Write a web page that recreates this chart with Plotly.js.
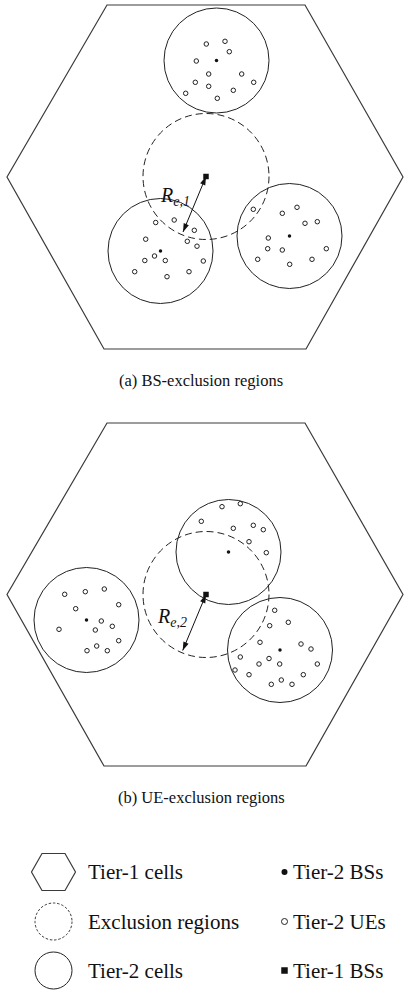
<!DOCTYPE html>
<html>
<head>
<meta charset="utf-8">
<script src="https://cdn.plot.ly/plotly-3.0.1.min.js"></script>
<style>html,body{margin:0;padding:0;background:#fff;}#chart{width:404px;height:992px;}</style>
</head>
<body>
<div id="chart"></div>
<script>
// ---------- Data (pixel-space diagram coordinates) ----------
const hexX  = [107, 305, 403, 306, 104, 7, 107];
const hexAY = [5, 5, 177, 349, 349, 177, 5];
const hexBY = [423, 423, 594.5, 766, 766, 594.5, 423];

const cellR = 52.5;
const exclR = 63;

// (a) BS-exclusion regions
const cellACx = [216.5, 160.5, 289.5];
const cellACy = [60.5, 251, 236];
const tier1ACx = [206];
const tier1ACy = [176.5];
const arrowAEnd = [183, 232];
const ueAX = [206.3,225,229.3,196.3,208.7,241.7,253.7,195.3,208.7,233.3,185.7,217.3,
  155.7,174.2,194.3,145.7,187.3,197,154.5,144.8,165.3,203.3,134.7,189,167,
  253.3,282.3,297,305,317.3,268.3,267.7,282.3,326.3,257.7,312,289.7];
const ueAY = [44,41.3,51.7,61,74,74,82.3,82.3,86.3,90.3,93.3,98.3,
  222.5,220,230.3,239.2,241.3,246.2,256,260.5,260.5,261,271.7,271.7,276.7,
  209.3,213.3,207.3,223.3,221.7,238,248.7,250,248.7,259.3,259.3,264.3];

// (b) UE-exclusion regions
const cellBCx = [86.5, 228.5, 280];
const cellBCy = [620, 552, 650];
const tier1BCx = [206];
const tier1BCy = [594.5];
const arrowBEnd = [182.7, 650.5];
const ueBX = [64.7,85.3,104.3,118.7,75.7,101.3,59,95.3,112.3,118.7,96.7,87,107.3,
  222,240.3,201.3,233.3,253.3,263.3,249,266.3,
  274.7,288.3,269.7,260,301,311,240.3,269,259,279.7,317.3,235,249,303.3,271.3,281.3,292];
const ueBY = [594.3,591.7,589,604.7,608.7,621,629.3,630,626.3,640.7,646,650.7,650.7,
  506.7,503.7,521.3,528.3,525.3,529.7,541.7,552.7,
  610.3,622.3,625.7,642.3,644,649,657,658.5,664,664,664,670,674.7,674.7,684.3,680,684.3];

// captions and legend
const captions = ["(a) BS-exclusion regions", "(b) UE-exclusion regions"];
const captionY = [380, 797];
const legendLabelsL = ["Tier-1 cells", "Exclusion regions", "Tier-2 cells"];
const legendLabelsR = ["Tier-2 BSs", "Tier-2 UEs", "Tier-1 BSs"];
const legendRowY = [872, 921.5, 970.5];
const legHexX = [42, 65, 75.5, 65, 42, 31.5, 42];
const legHexDY = [-18.5, -18.5, 0, 18.5, 18.5, 0, -18.5];
const legIconX = 53.5, legIconR = 18.5;
const legTextLX = 86, legMarkX = 284.5, legTextRX = 291;

// ---------- Build ----------
const ink = '#222';
const shapes = [];
function circle(cx, cy, r, dash, w) {
  shapes.push({type:'circle', xref:'x', yref:'y', x0:cx-r, x1:cx+r, y0:cy-r, y1:cy+r,
    line:{color:ink, width:w||1, dash:dash||'solid'}, layer:'below'});
}
function poly(xs, ys) {
  let d = 'M' + xs.map((x,i)=> x + ',' + ys[i]).join('L') + 'Z';
  shapes.push({type:'path', xref:'x', yref:'y', path:d, line:{color:'#3a3a3a', width:1.2}, layer:'below'});
}
poly(hexX, hexAY);
poly(hexX, hexBY);
cellACx.forEach((x,i)=>circle(x, cellACy[i], cellR));
cellBCx.forEach((x,i)=>circle(x, cellBCy[i], cellR));
circle(tier1ACx[0], tier1ACy[0], exclR, '7px,4px');
circle(tier1BCx[0], tier1BCy[0], exclR, '7px,4px');

// legend icons
poly(legHexX, legHexDY.map(d=>legendRowY[0]+d));
circle(legIconX, legendRowY[1], legIconR, '2.5px,1.8px', 0.9);
circle(legIconX, legendRowY[2], legIconR);

const traces = [];
// double-headed radius arrows (Tier-1 BS -> exclusion boundary)
[[tier1ACx[0], tier1ACy[0], arrowAEnd], [tier1BCx[0], tier1BCy[0], arrowBEnd]].forEach(a => {
  const x0 = a[0], y0 = a[1], x1 = a[2][0], y1 = a[2][1];
  const angEnd = Math.atan2(x1 - x0, -(y1 - y0)) * 180 / Math.PI; // screen y grows downward
  traces.push({x:[x0, x1], y:[y0, y1], mode:'lines+markers', type:'scatter', hoverinfo:'skip',
    line:{color:'#111', width:1},
    marker:{symbol:'arrow', size:9, color:'#111', angle:[angEnd + 180, angEnd], line:{width:0}}});
});
traces.push(
  {x: ueAX.concat(ueBX), y: ueAY.concat(ueBY), mode:'markers', type:'scatter',
   marker:{symbol:'circle-open', size:4.5, color:ink, line:{width:1, color:ink}}, hoverinfo:'skip'},
  {x: cellACx.concat(cellBCx), y: cellACy.concat(cellBCy), mode:'markers', type:'scatter',
   marker:{symbol:'circle', size:3.5, color:'#111'}, hoverinfo:'skip'},
  {x: tier1ACx.concat(tier1BCx), y: tier1ACy.concat(tier1BCy), mode:'markers', type:'scatter',
   marker:{symbol:'square', size:5.5, color:'#111'}, hoverinfo:'skip'},
  // legend markers
  {x:[legMarkX], y:[legendRowY[0]], mode:'markers', type:'scatter',
   marker:{symbol:'circle', size:6, color:'#111'}, hoverinfo:'skip'},
  {x:[legMarkX], y:[legendRowY[1]], mode:'markers', type:'scatter',
   marker:{symbol:'circle-open', size:6, color:ink, line:{width:1, color:ink}}, hoverinfo:'skip'},
  {x:[legMarkX], y:[legendRowY[2]], mode:'markers', type:'scatter',
   marker:{symbol:'square', size:6.5, color:'#111'}, hoverinfo:'skip'}
);

const serif = 'Liberation Serif, Times New Roman, serif';
const annotations = [];
annotations.push({xref:'x', yref:'y', x:175, y:196, text:'<i>R<sub>e,1</sub></i>', showarrow:false,
  font:{family:serif, size:20, color:'#111'}});
annotations.push({xref:'x', yref:'y', x:172, y:617, text:'<i>R<sub>e,2</sub></i>', showarrow:false,
  font:{family:serif, size:20, color:'#111'}});
captions.forEach((c,i)=>annotations.push({xref:'x', yref:'y', x:201, y:captionY[i], text:c, showarrow:false,
  font:{family:serif, size:16.5, color:'#111'}}));
legendLabelsL.forEach((t,i)=>annotations.push({xref:'x', yref:'y', x:legTextLX, y:legendRowY[i], text:t,
  showarrow:false, xanchor:'left', font:{family:serif, size:21, color:'#111'}}));
legendLabelsR.forEach((t,i)=>annotations.push({xref:'x', yref:'y', x:legTextRX, y:legendRowY[i], text:t,
  showarrow:false, xanchor:'left', font:{family:serif, size:21, color:'#111'}}));

const layout = {
  width:404, height:992, margin:{l:0, r:0, t:0, b:0},
  paper_bgcolor:'#fff', plot_bgcolor:'#fff', showlegend:false,
  xaxis:{range:[0,404], visible:false, fixedrange:true},
  yaxis:{range:[992,0], visible:false, fixedrange:true},
  shapes:shapes, annotations:annotations
};
Plotly.newPlot('chart', traces, layout, {staticPlot:true, displayModeBar:false});
</script>
</body>
</html>
